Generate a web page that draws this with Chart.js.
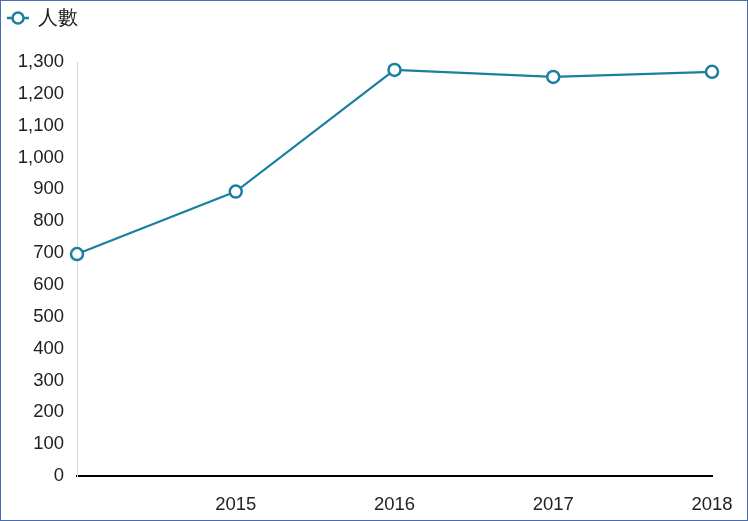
<!DOCTYPE html>
<html>
<head>
<meta charset="utf-8">
<script src="https://cdn.jsdelivr.net/npm/chart.js@4"></script>
<style>
  html, body { margin: 0; padding: 0; background: #fff; }
  #wrap { position: relative; width: 748px; height: 521px; }
  #frame { position: absolute; left: 0; top: 0; width: 746px; height: 519px; border: 1px solid #4a6cb3; pointer-events: none; }
</style>
</head>
<body>
<div id="wrap">
  <canvas id="chart" width="748" height="521"></canvas>
  <div id="frame"></div>
</div>
<script>
// chart data
const years = ['', '2015', '2016', '2017', '2018'];
const people = [697, 893, 1275, 1253, 1269];
const seriesName = '人數';
const lineColor = '#1b7fa0';

document.addEventListener('DOMContentLoaded', () => {
    // legend marker: short line with a hollow circle
    const marker = document.createElement('canvas');
    marker.width = 24; marker.height = 16;
    const m = marker.getContext('2d');
    m.strokeStyle = lineColor;
    m.lineWidth = 2.5;
    m.beginPath(); m.moveTo(1, 8); m.lineTo(23, 8); m.stroke();
    m.fillStyle = '#fff';
    m.beginPath(); m.arc(12, 8, 5.5, 0, Math.PI * 2); m.fill(); m.stroke();

    new Chart(document.getElementById('chart'), {
        type: 'line',
        data: {
            labels: years,
            datasets: [{
                label: seriesName,
                data: people,
                borderColor: lineColor,
                borderWidth: 2.2,
                backgroundColor: '#fff',
                pointRadius: 6,
                pointHoverRadius: 6,
                pointBorderWidth: 2.5,
                pointBackgroundColor: '#fff',
                pointBorderColor: lineColor,
                tension: 0
            }]
        },
        options: {
            responsive: false,
            animation: false,
            layout: { padding: { left: 0, right: 36, top: 0, bottom: 0 } },
            plugins: {
                tooltip: { enabled: false },
                legend: {
                    align: 'start',
                    labels: {
                        usePointStyle: true,
                        color: '#222',
                        font: { family: 'Liberation Sans, Arial', size: 20 },
                        padding: 8,
                        generateLabels: chart => [{
                            text: seriesName,
                            pointStyle: marker,
                            fillStyle: '#fff',
                            strokeStyle: lineColor,
                            lineWidth: 0,
                            fontColor: '#222',
                            datasetIndex: 0
                        }]
                    }
                }
            },
            scales: {
                x: {
                    offset: false,
                    grid: { display: false, drawTicks: false },
                    border: { color: '#000', width: 2 },
                    ticks: {
                        color: '#222',
                        font: { family: 'Liberation Sans, Arial', size: 18.5 },
                        padding: 18,
                        maxRotation: 0,
                        autoSkip: false
                    },
                    afterFit: axis => { axis.height = 45; axis.paddingRight = 0; axis.paddingLeft = 0; }
                },
                y: {
                    min: 0,
                    max: 1300,
                    grid: { display: false, drawTicks: false },
                    border: { color: '#d9d9d9', width: 1 },
                    ticks: {
                        stepSize: 100,
                        color: '#222',
                        font: { family: 'Liberation Sans, Arial', size: 18.5 },
                        padding: 13
                    },
                    afterFit: axis => { axis.width = 77; axis.paddingTop = 0; axis.paddingBottom = 0; }
                }
            }
        },
        plugins: [{
            id: 'legendPad',
            beforeInit(chart) {
                const fit = chart.legend.fit;
                chart.legend.fit = function () {
                    fit.bind(chart.legend)();
                    this.height = 62;
                };
            }
        }]
    });
});
</script>
</body>
</html>
